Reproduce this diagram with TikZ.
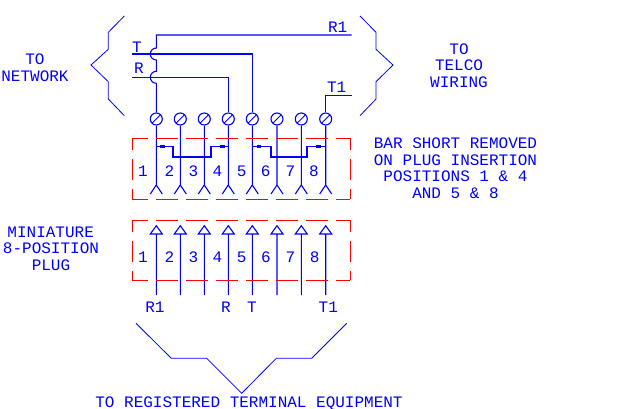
\documentclass[tikz,border=0pt]{standalone}
\usepackage{fontspec}
\setmainfont{Liberation Mono}
\definecolor{cadblue}{RGB}{0,0,255}
\definecolor{cadred}{RGB}{255,0,0}
\tikzset{
  wire/.style={draw=cadblue, line width=1.1pt},
  thinwire/.style={draw=cadblue, line width=0.8pt},
  barwire/.style={draw=cadblue, line width=2.2pt},
  block/.style={fill=cadblue, draw=none, minimum width=4.5pt, minimum height=3pt, inner sep=0pt},
  screw/.style={circle, draw=cadblue, line width=1.1pt, minimum size=12pt, inner sep=0pt,
    path picture={\draw[cadblue, line width=0.9pt]
      ([xshift=-1pt,yshift=-1pt]path picture bounding box.south west) -- ([xshift=-1pt,yshift=-1pt]path picture bounding box.north east)
      ([xshift=1pt,yshift=1pt]path picture bounding box.south west) -- ([xshift=1pt,yshift=1pt]path picture bounding box.north east);}},
  dashh/.style={draw=cadred, line width=1pt, dash pattern=on 21.3pt off 8.7pt, dash phase=6pt},
  dashv/.style={draw=cadred, line width=1pt, dash pattern=on 21pt off 9pt, dash phase=9pt},
  cadtext/.style={text=cadblue, inner sep=0pt, font=\fontsize{16}{16}\selectfont, text height=10.5pt, text depth=0pt}
}
\begin{document}
\begin{tikzpicture}[x=1pt,y=-1pt]

  \useasboundingbox (0,0) rectangle (640,409);

  % Screw terminals
  \node[screw] (s1) at (156.3,119) {};
  \node[screw] (s2) at (180.3,119) {};
  \node[screw] (s3) at (204.3,119) {};
  \node[screw] (s4) at (228.3,119) {};
  \node[screw] (s5) at (252.3,119) {};
  \node[screw] (s6) at (277,119) {};
  \node[screw] (s7) at (301.3,119) {};
  \node[screw] (s8) at (325.7,119) {};

  % Free ends of the wiring
  \coordinate (rone) at (351.7,35);
  \coordinate (tin) at (132.3,54);
  \coordinate (rin) at (132.3,77.3);
  \coordinate (tone) at (351.7,95.3);

  % Incoming wires
  \draw[wire] (tin) -| (s5.north);
  \draw[wire] (rin) -| (s4.north);
  \draw[wire] (tone) -| (s8.north);

  % R1 wire, hopping over T and R
  \draw[wire] (s1.north) -- (156.3,83.3) arc[start angle=90,end angle=270,radius=6]
    -- (156.3,60) arc[start angle=90,end angle=270,radius=6] -- (156.3,35) -- (rone);

  % Contacts with forks
  \draw[wire] (s1.south) -- (156.3,185) -- +(-6,9) (156.3,185) -- +(6,9);
  \draw[wire] (s2.south) -- (180.3,185) -- +(-6,9) (180.3,185) -- +(6,9);
  \draw[wire] (s3.south) -- (204.3,185) -- +(-6,9) (204.3,185) -- +(6,9);
  \draw[wire] (s4.south) -- (228.3,185) -- +(-6,9) (228.3,185) -- +(6,9);
  \draw[wire] (s5.south) -- (252.3,185) -- +(-6,9) (252.3,185) -- +(6,9);
  \draw[wire] (s6.south) -- (277,185) -- +(-6,9) (277,185) -- +(6,9);
  \draw[wire] (s7.south) -- (301.3,185) -- +(-6,9) (301.3,185) -- +(6,9);
  \draw[wire] (s8.south) -- (325.7,185) -- +(-6,9) (325.7,185) -- +(6,9);

  % Shorting bars
  \draw[wire] (156.3,146.3) -- (173.3,146.3);
  \draw[wire] (211.3,146.3) -- (228.3,146.3);
  \draw[wire] (252.3,146.3) -- (271,146.3);
  \draw[wire] (307.3,146.3) -- (325.7,146.3);
  \draw[barwire, line join=miter] (173.3,146) -- (173.3,156.7) -- (211.3,156.7) -- (211.3,146);
  \draw[barwire, line join=miter] (271,146) -- (271,156.7) -- (307.3,156.7) -- (307.3,146);
  \node[block] (b1) at (162.7,146.3) {};
  \node[block] (b2) at (222.3,146.3) {};
  \node[block] (b3) at (259,146.3) {};
  \node[block] (b4) at (318.3,146.3) {};

  % Plug contacts
  \draw[wire] (156.3,295) -- (156.3,234) ++(-6,0) -- ++(12,0) -- ++(-6,-8.3) -- cycle;
  \draw[wire] (180.3,295) -- (180.3,234) ++(-6,0) -- ++(12,0) -- ++(-6,-8.3) -- cycle;
  \draw[wire] (204.3,295) -- (204.3,234) ++(-6,0) -- ++(12,0) -- ++(-6,-8.3) -- cycle;
  \draw[wire] (228.3,295) -- (228.3,234) ++(-6,0) -- ++(12,0) -- ++(-6,-8.3) -- cycle;
  \draw[wire] (252.3,295) -- (252.3,234) ++(-6,0) -- ++(12,0) -- ++(-6,-8.3) -- cycle;
  \draw[wire] (277,295) -- (277,234) ++(-6,0) -- ++(12,0) -- ++(-6,-8.3) -- cycle;
  \draw[wire] (301.3,295) -- (301.3,234) ++(-6,0) -- ++(12,0) -- ++(-6,-8.3) -- cycle;
  \draw[wire] (325.7,295) -- (325.7,234) ++(-6,0) -- ++(12,0) -- ++(-6,-8.3) -- cycle;

  % Dashed outlines
  \draw[dashh] (132.3,138.3) -- (350.3,138.3);
  \draw[dashh] (132.3,199) -- (350.3,199);
  \draw[dashv] (132.3,138.3) -- (132.3,199);
  \draw[dashv] (350.3,138.3) -- (350.3,199);
  \draw[dashh] (132.3,220.3) -- (350.3,220.3);
  \draw[dashh] (132.3,280.3) -- (350.3,280.3);
  \draw[dashv] (132.3,220.3) -- (132.3,280.3);
  \draw[dashv] (350.3,220.3) -- (350.3,280.3);

  % Braces
  \draw[thinwire] (124.3,16) -- (108.3,32.3) -- (108.3,49.3) -- (91,65) -- (108.3,81.7) -- (108.3,99) -- (124.3,115.7);
  \draw[thinwire] (360,16) -- (376,32.3) -- (376,49.3) -- (393,65) -- (376,81.7) -- (376,99) -- (360,115.7);
  \draw[thinwire] (136,323.3) -- (171.3,358.3) -- (206.7,358.3) -- (241.7,393.3) -- (276.3,358.3) -- (311.7,358.3) -- (346.7,323.3);

  % Wire labels
  \node[cadtext] (labrone) at (337.7,27) {R1};
  \node[cadtext] (labt) at (137,47.7) {T};
  \node[cadtext] (labr) at (139,68) {R};
  \node[cadtext] (labtone) at (336.7,87) {T1};

  % Position numbers, jack
  \node[cadtext] (ja) at (143,171) {1};
  \node[cadtext] (jb) at (169.3,171) {2};
  \node[cadtext] (jc) at (193.3,171) {3};
  \node[cadtext] (jd) at (217.3,171) {4};
  \node[cadtext] (je) at (241.7,171) {5};
  \node[cadtext] (jf) at (265.7,171) {6};
  \node[cadtext] (jg) at (290.3,171) {7};
  \node[cadtext] (jh) at (314,171) {8};

  % Position numbers, plug
  \node[cadtext] (pa) at (143,257.3) {1};
  \node[cadtext] (pb) at (169.3,257.3) {2};
  \node[cadtext] (pc) at (193.3,257.3) {3};
  \node[cadtext] (pd) at (217.3,257.3) {4};
  \node[cadtext] (pe) at (241.7,257.3) {5};
  \node[cadtext] (pf) at (266,257.3) {6};
  \node[cadtext] (pg) at (290.3,257.3) {7};
  \node[cadtext] (ph) at (314.7,257.3) {8};

  % Plug wire labels
  \node[cadtext] (plugrone) at (155,307.3) {R1};
  \node[cadtext] (plugr) at (226,307.3) {R};
  \node[cadtext] (plugt) at (252,307.3) {T};
  \node[cadtext] (plugtone) at (328.3,307.3) {T1};

  % Side texts
  \node[cadtext] (neta) at (35,59.5) {TO};
  \node[cadtext] (netb) at (35,76.5) {NETWORK};
  \node[cadtext] (telcoa) at (459,49) {TO};
  \node[cadtext] (telcob) at (459,65.7) {TELCO};
  \node[cadtext] (telcoc) at (459,82.3) {WIRING};
  \node[cadtext] (bara) at (455.5,143.5) {BAR SHORT REMOVED};
  \node[cadtext] (barb) at (455.5,160) {ON PLUG INSERTION};
  \node[cadtext] (barc) at (455.5,176.5) {POSITIONS 1 \& 4};
  \node[cadtext] (bard) at (455.5,193) {AND 5 \& 8};
  \node[cadtext] (pluga) at (50.7,232.7) {MINIATURE};
  \node[cadtext] (plugb) at (51,248.3) {8-POSITION};
  \node[cadtext] (plugc) at (51,265.3) {PLUG};
  \node[cadtext] (equip) at (249,401.8) {TO REGISTERED TERMINAL EQUIPMENT};

\end{tikzpicture}
\end{document}
